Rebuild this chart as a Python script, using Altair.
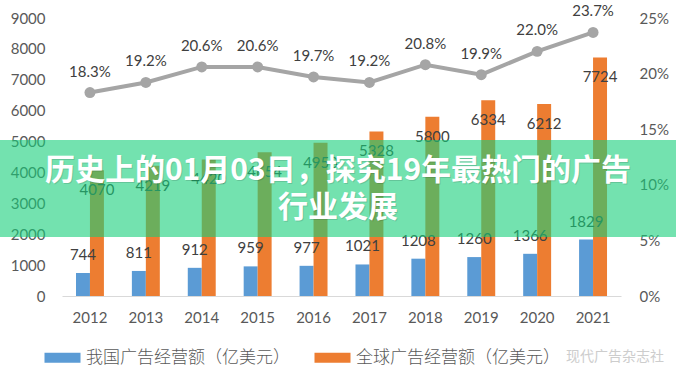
import altair as alt
import pandas as pd

years = ["2012", "2013", "2014", "2015", "2016", "2017", "2018", "2019", "2020", "2021"]
china = [744, 811, 912, 959, 977, 1021, 1208, 1260, 1366, 1829]
world = [4070, 4219, 4420, 4654, 4958, 5328, 5800, 6334, 6212, 7724]
share_pct = [18.3, 19.2, 20.6, 20.6, 19.7, 19.2, 20.8, 19.9, 22.0, 23.7]
series_names = ["我国广告经营额（亿美元）", "全球广告经营额（亿美元）"]
series_colors = ["#5B9BD5", "#ED7D31"]
title_lines = ["历史上的01月03日，探究19年最热门的广告", "行业发展"]
watermark = "现代广告杂志社"
left_ticks = [0, 1000, 2000, 3000, 4000, 5000, 6000, 7000, 8000, 9000]
right_ticks = [0, 0.05, 0.10, 0.15, 0.20, 0.25]

rows = []
for y, c, w in zip(years, china, world):
    rows.append({"year": y, "series": series_names[0], "value": c})
    rows.append({"year": y, "series": series_names[1], "value": w})
bars_df = pd.DataFrame(rows)
line_df = pd.DataFrame({"year": years, "rate": [p / 100 for p in share_pct]})

NUM_FONT = "Lato"
CJK_FONT = "Noto Sans CJK SC"
TXT = "#595959"

x_enc = alt.X(
    "year:N",
    sort=years,
    scale=alt.Scale(paddingInner=0.5, paddingOuter=0.25),
    axis=alt.Axis(title=None, labelAngle=0, ticks=False, domain=True,
                  domainColor="#D9D9D9", domainWidth=1, labelPadding=14,
                  labelFont=NUM_FONT, labelFontSize=15, labelColor=TXT, grid=False),
)
xoff = alt.XOffset("series:N", scale=alt.Scale(domain=series_names))
left_scale = alt.Scale(domain=[0, 9000], nice=False)
right_scale = alt.Scale(domain=[0, 0.25], nice=False)

left_axis = alt.Axis(title=None, values=left_ticks, format="d", tickCount=10,
                     labelOverlap=False, grid=False,
                     domain=False, ticks=False, labelPadding=17, labelFont=NUM_FONT,
                     labelFontSize=15, labelColor=TXT)
right_axis = alt.Axis(title=None, orient="right", format=".0%",
                      values=right_ticks, tickCount=6, grid=False,
                      labelOverlap=False,
                      domain=False, ticks=False, labelPadding=18, labelFont=NUM_FONT,
                      labelFontSize=15, labelColor=TXT)

y_left = alt.Y("value:Q", scale=left_scale, axis=left_axis)
y_right = alt.Y("rate:Q", scale=right_scale, axis=right_axis)

bars = alt.Chart(bars_df).mark_bar().encode(
    x=x_enc,
    xOffset=xoff,
    y=y_left,
    color=alt.Color(
        "series:N",
        scale=alt.Scale(domain=series_names, range=series_colors),
        legend=alt.Legend(
            title=None, orient="none", direction="horizontal",
            legendX=-8, legendY=331,
            symbolType="M-3.6,-1H3.6V1H-3.6Z", symbolSize=100,
            symbolStrokeWidth=0, labelOffset=15, columnPadding=24,
            labelLimit=0, labelFont=CJK_FONT, labelFontSize=17,
            labelFontWeight=300, labelColor=TXT,
        ),
    ),
)

lbl_blue = alt.Chart(bars_df).transform_filter(
    alt.datum.series == series_names[0]
).mark_text(dy=-18, baseline="middle", font=NUM_FONT, fontSize=15, color="#404040").encode(
    x=x_enc, xOffset=xoff, y=y_left, text="value:Q"
)
lbl_orange = alt.Chart(bars_df).transform_filter(
    alt.datum.series == series_names[1]
).mark_text(dy=20, baseline="middle", font=NUM_FONT, fontSize=15, color="#404040").encode(
    x=x_enc, xOffset=xoff, y=y_left, text="value:Q"
)

left = alt.layer(bars, lbl_blue, lbl_orange)

line = alt.Chart(line_df).mark_line(color="#A5A5A5", strokeWidth=4).encode(
    x=x_enc, y=y_right
)
pts = alt.Chart(line_df).mark_point(filled=True, size=120, color="#A5A5A5", opacity=1).encode(
    x=x_enc, y=y_right
)
pct = alt.Chart(line_df).mark_text(dy=-21, baseline="middle", font=NUM_FONT,
                                   fontSize=15, color="#404040").encode(
    x=x_enc, y=y_right, text=alt.Text("rate:Q", format=".1%")
)
right = alt.layer(line, pts, pct)

one = alt.Data(values=[{"k": 1}])
band = alt.Chart(one).mark_rect(color="#16CF7A", opacity=0.6).encode(
    x=alt.value(-62), x2=alt.value(614), y=alt.value(122), y2=alt.value(219)
)
title_shadow = alt.Chart(one).mark_text(
    text=title_lines, font=CJK_FONT, fontSize=30, fontWeight="bold",
    color="#000000", opacity=0.12, lineHeight=37, align="center", baseline="middle",
).encode(x=alt.value(277), y=alt.value(154))
title_txt = alt.Chart(one).mark_text(
    text=title_lines, font=CJK_FONT, fontSize=30, fontWeight="bold",
    color="#FFFFFF", lineHeight=37, align="center", baseline="middle",
).encode(x=alt.value(276), y=alt.value(153))
wm = alt.Chart(one).mark_text(
    text=watermark, font=CJK_FONT, fontSize=14, color="#CDCDCD",
    align="center", baseline="middle",
).encode(x=alt.value(553), y=alt.value(339))

chart = alt.layer(
    alt.layer(left, right).resolve_scale(y="independent"),
    band, title_shadow, title_txt, wm,
).properties(
    width=559, height=278,
    autosize=alt.AutoSizeParams(type="none"),
    padding={"left": 62, "top": 18, "right": 55, "bottom": 80},
    background="#FFFFFF",
).configure_view(stroke=None)

chart.save("out.html", embed_options={"renderer": "svg", "actions": False})
